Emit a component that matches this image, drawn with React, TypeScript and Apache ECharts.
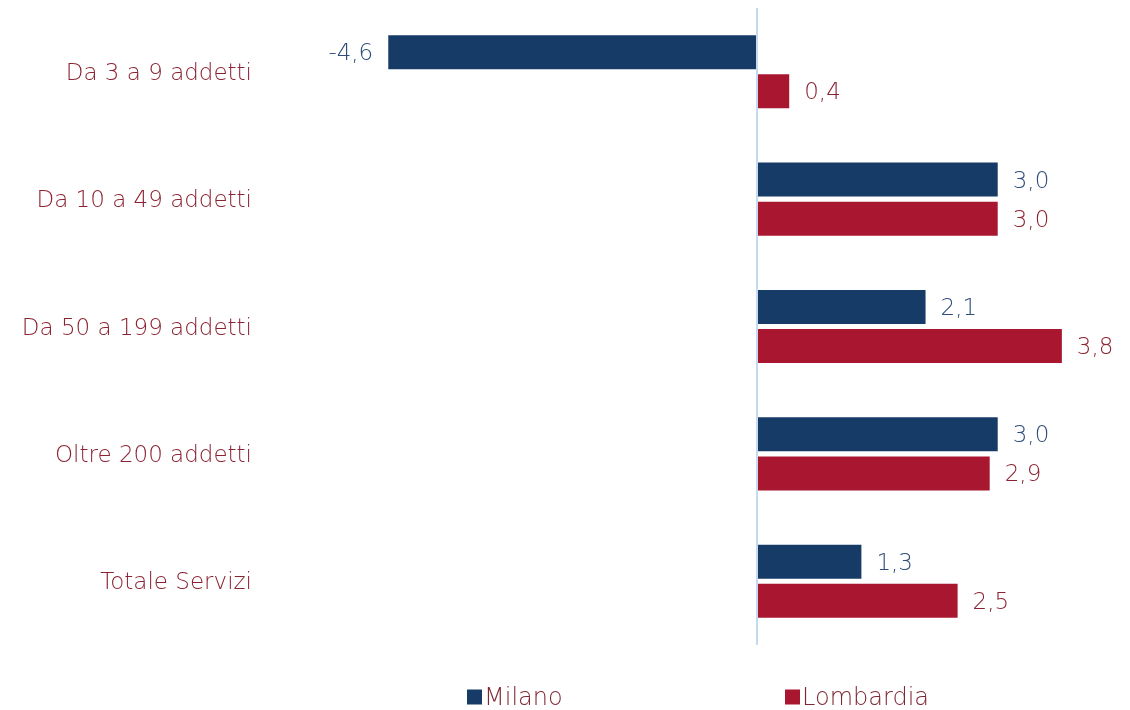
import React, { useEffect, useRef } from "react";
import * as echarts from "echarts";

const categories = ["Da 3 a 9 addetti", "Da 10 a 49 addetti", "Da 50 a 199 addetti", "Oltre 200 addetti", "Totale Servizi"];
const milano = [-4.6, 3.0, 2.1, 3.0, 1.3];
const lombardia = [0.4, 3.0, 3.8, 2.9, 2.5];

const FONT = "DejaVu Sans";
const W = 200;
const fmt = (v: number) => v.toFixed(1).replace(".", ",");

export default function App() {
  const ref = useRef<HTMLDivElement>(null);
  useEffect(() => {
    const chart = echarts.init(ref.current!, null, { renderer: "svg" });
    const mkData = (arr: number[], color: string) =>
      arr.map((v) => ({
        value: v,
        label: {
          show: true,
          position: v < 0 ? "left" : "right",
          distance: 15,
          formatter: () => fmt(v),
          color,
          fontSize: 23,
          fontFamily: FONT,
          fontWeight: W,
        },
      }));
    const legendText = { fontSize: 24, color: "#7f2833", fontFamily: FONT, fontWeight: W, padding: [0, 0, 0, -3] };
    chart.setOption({
      animation: false,
      textStyle: { fontFamily: FONT },
      grid: { left: 276, right: 12, top: 8, bottom: 65, containLabel: false },
      legend: [
        {
          data: ["Milano"],
          left: 462,
          top: 680,
          icon: "rect",
          itemWidth: 15,
          itemHeight: 15,
          textStyle: legendText,
        },
        {
          data: ["Lombardia"],
          left: 780,
          top: 680,
          icon: "rect",
          itemWidth: 15,
          itemHeight: 15,
          textStyle: legendText,
        },
      ],
      xAxis: {
        type: "value",
        min: -6,
        max: 4.5,
        show: false,
        splitLine: { show: false },
      },
      yAxis: {
        type: "category",
        data: categories,
        inverse: true,
        axisLine: { show: false },
        axisTick: { show: false },
        axisLabel: { color: "#8b2332", fontSize: 23, margin: 24, fontFamily: FONT, fontWeight: W },
      },
      series: [
        {
          name: "Milano",
          type: "bar",
          barWidth: 34,
          barGap: "15%",
          itemStyle: { color: "#173b67" },
          data: mkData(milano, "#2f4d7a"),
          markLine: {
            silent: true,
            symbol: "none",
            label: { show: false },
            lineStyle: { color: "#c5daf0", width: 2, type: "solid" },
            data: [{ xAxis: 0 }],
          },
        },
        {
          name: "Lombardia",
          type: "bar",
          barWidth: 34,
          itemStyle: { color: "#a8172f" },
          data: mkData(lombardia, "#8b2332"),
        },
      ],
    });
    return () => chart.dispose();
  }, []);
  return <div ref={ref} style={{ position: "fixed", left: 0, top: 0, width: 1130, height: 710 }} />;
}
